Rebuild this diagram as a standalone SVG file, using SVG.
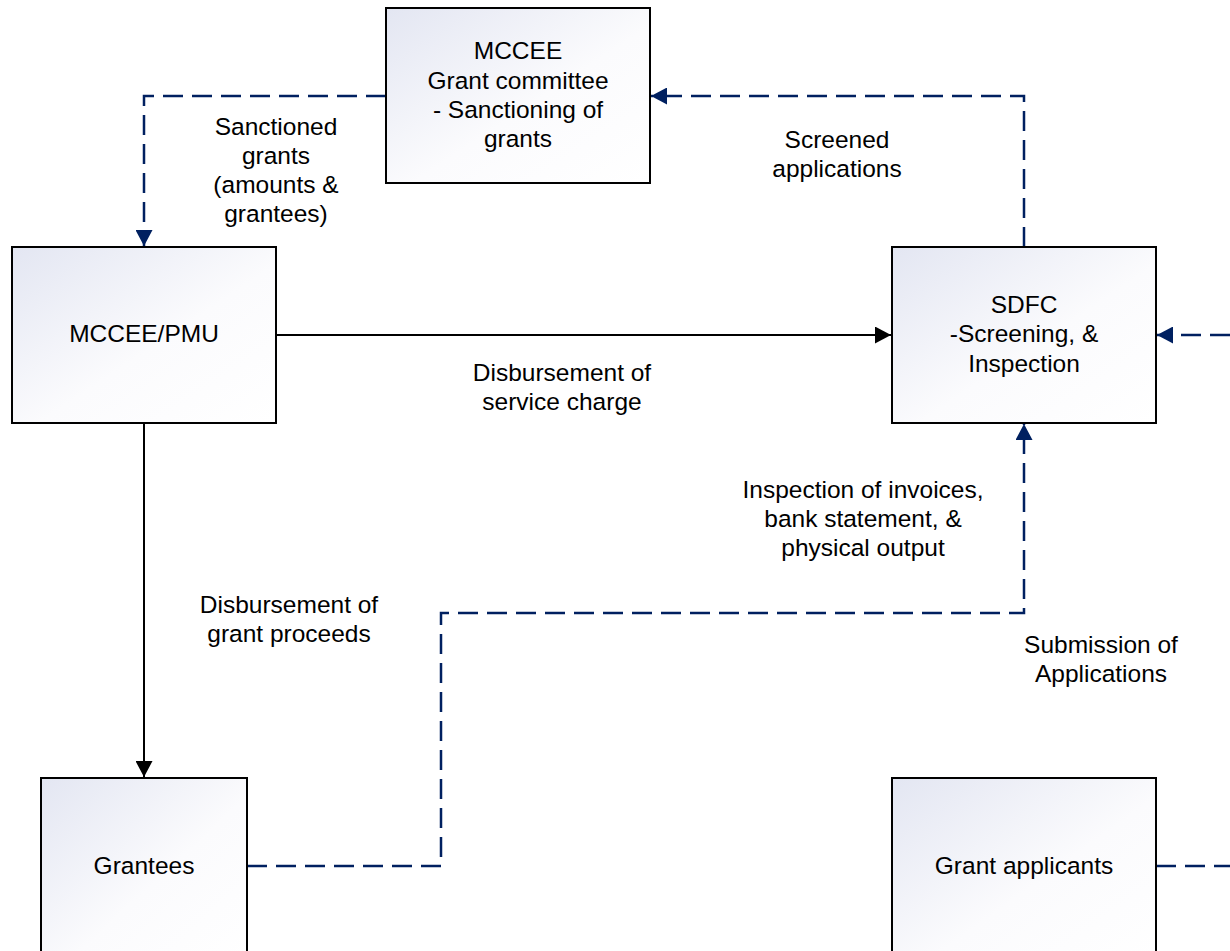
<svg xmlns="http://www.w3.org/2000/svg" width="1230" height="951" viewBox="0 0 1230 951">
<style>
.box{stroke:#000;stroke-width:2;fill:url(#g)}
.t{font-family:"Liberation Sans",Arial,sans-serif;font-size:24.5px;fill:#000;text-anchor:middle}
.dash{fill:none;stroke:#002060;stroke-width:2.5;stroke-dasharray:20 9}
.solid{fill:none;stroke:#000;stroke-width:2}
</style>
<defs>
<linearGradient id="g" x1="0" y1="0" x2="1" y2="1">
<stop offset="0" stop-color="#e3e6f2"/>
<stop offset="0.55" stop-color="#fbfbfd"/>
<stop offset="1" stop-color="#ffffff"/>
</linearGradient>
<marker id="ab" markerUnits="userSpaceOnUse" markerWidth="17" markerHeight="17" refX="16" refY="8.5" orient="auto" viewBox="0 0 17 17">
<path d="M0,0 L16,8.5 L0,17 z" fill="#002060"/>
</marker>
<marker id="ak" markerUnits="userSpaceOnUse" markerWidth="17" markerHeight="17" refX="16" refY="8.5" orient="auto" viewBox="0 0 17 17">
<path d="M0,0 L16,8.5 L0,17 z" fill="#000"/>
</marker>
</defs>
<rect width="1230" height="951" fill="#fff"/>
<g id="connectors">
<path class="dash" d="M386,96 H144 V246" marker-end="url(#ab)"/>
<path class="dash" d="M1024,247 V96 H651" marker-end="url(#ab)"/>
<path class="solid" d="M276,335 H891" marker-end="url(#ak)"/>
<path class="solid" d="M144,423 V777" marker-end="url(#ak)"/>
<path class="dash" d="M247,866 H441 V613 H1024 V424" marker-end="url(#ab)"/>
<path class="dash" d="M1230,335 H1157" marker-end="url(#ab)"/>
<path class="dash" d="M1156,866 H1230"/>
</g>
<g id="labels">
<text class="t" x="276" y="135">Sanctioned</text>
<text class="t" x="276" y="164">grants</text>
<text class="t" x="276" y="193">(amounts &amp;</text>
<text class="t" x="276" y="222">grantees)</text>
<text class="t" x="837" y="148">Screened</text>
<text class="t" x="837" y="177">applications</text>
<text class="t" x="562" y="381">Disbursement of</text>
<text class="t" x="562" y="410">service charge</text>
<text class="t" x="863" y="498">Inspection of invoices,</text>
<text class="t" x="863" y="527">bank statement, &amp;</text>
<text class="t" x="863" y="556">physical output</text>
<text class="t" x="289" y="613">Disbursement of</text>
<text class="t" x="289" y="642">grant proceeds</text>
<text class="t" x="1101" y="653">Submission of</text>
<text class="t" x="1101" y="682">Applications</text>
</g>
<g id="committee">
<rect class="box" x="386" y="8" width="264" height="175"/>
<text class="t" x="518" y="59">MCCEE</text>
<text class="t" x="518" y="89">Grant committee</text>
<text class="t" x="518" y="118">- Sanctioning of</text>
<text class="t" x="518" y="147">grants</text>
</g>
<g id="pmu">
<rect class="box" x="12" y="247" width="264" height="176"/>
<text class="t" x="144" y="342">MCCEE/PMU</text>
</g>
<g id="sdfc">
<rect class="box" x="892" y="247" width="264" height="176"/>
<text class="t" x="1024" y="313">SDFC</text>
<text class="t" x="1024" y="342">-Screening, &amp;</text>
<text class="t" x="1024" y="372">Inspection</text>
</g>
<g id="grantees">
<rect class="box" x="41" y="778" width="206" height="190"/>
<text class="t" x="144" y="874">Grantees</text>
</g>
<g id="applicants">
<rect class="box" x="892" y="778" width="264" height="190"/>
<text class="t" x="1024" y="874">Grant applicants</text>
</g>
</svg>
